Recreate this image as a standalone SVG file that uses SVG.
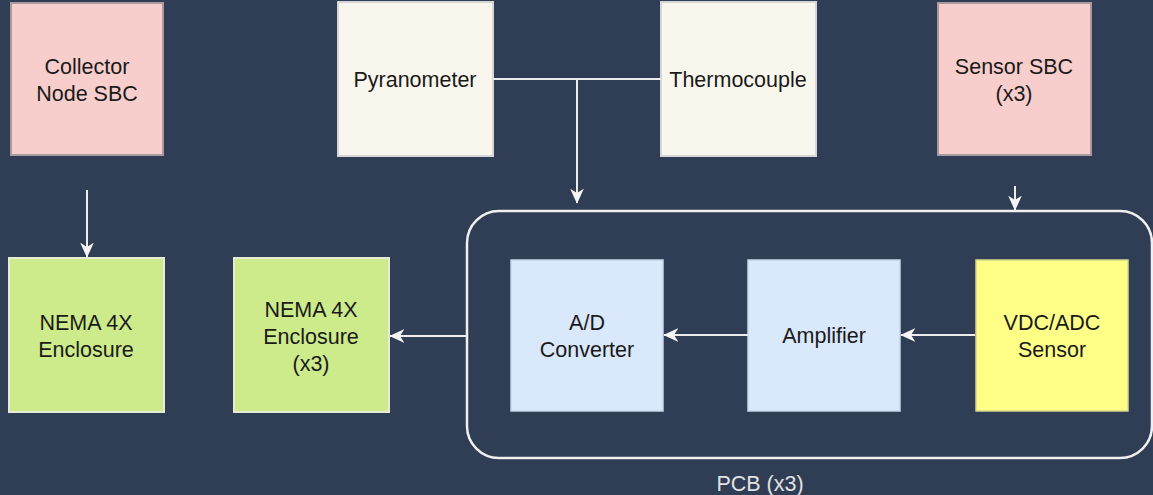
<svg xmlns="http://www.w3.org/2000/svg" width="1153" height="495" viewBox="0 0 1153 495">
<defs>
<marker id="arr" viewBox="0 0 12 12" refX="11.5" refY="6" markerWidth="15" markerHeight="15" markerUnits="userSpaceOnUse" orient="auto">
<path d="M0,0.5 L12,6 L0,11.5 L3.5,6 z" fill="#f4f4f4"/>
</marker>
</defs>
<style>
text{font-family:"Liberation Sans",Arial,sans-serif;font-size:21.5px;fill:#1a1a1a;text-anchor:middle}
.pink{fill:#f8cecc;stroke:#a89a9e;stroke-width:2}
.cream{fill:#f9f7ed;stroke:#d6d6d6;stroke-width:2}
.green{fill:#cdeb8b;stroke:#e4ecd8;stroke-width:2}
.blue{fill:#dae8fc;stroke:#c9d6e8;stroke-width:1.5}
.yellow{fill:#ffff88;stroke:#d8d88a;stroke-width:1.5}
.edge{fill:none;stroke:#ececec;stroke-width:2}
.lbl{fill:#e2e2e2}
</style>
<rect width="1153" height="495" fill="#2f3e55"/>

<g id="pcb">
<rect x="467" y="211" width="685" height="247" rx="32" ry="32" fill="none" stroke="#f0f0f0" stroke-width="2.5"/>
<text class="lbl" x="760" y="491">PCB (x3)</text>
</g>

<g id="collector">
<rect class="pink" x="11" y="3" width="152" height="152"/>
<text x="87" y="74">Collector</text>
<text x="87" y="101">Node SBC</text>
</g>
<g id="pyranometer">
<rect class="cream" x="338" y="2" width="155" height="154"/>
<text x="415" y="87">Pyranometer</text>
</g>
<g id="thermocouple">
<rect class="cream" x="661" y="2" width="155" height="154"/>
<text x="738" y="87">Thermocouple</text>
</g>
<g id="sensorsbc">
<rect class="pink" x="938" y="3" width="153" height="152"/>
<text x="1014" y="74">Sensor SBC</text>
<text x="1014" y="101">(x3)</text>
</g>
<g id="nema1">
<rect class="green" x="9" y="258" width="155" height="154"/>
<text x="86" y="330">NEMA 4X</text>
<text x="86" y="357">Enclosure</text>
</g>
<g id="nema3">
<rect class="green" x="234" y="258" width="155" height="154"/>
<text x="311" y="317">NEMA 4X</text>
<text x="311" y="344">Enclosure</text>
<text x="311" y="371">(x3)</text>
</g>
<g id="adc">
<rect class="blue" x="511" y="260" width="152" height="151"/>
<text x="587" y="330">A/D</text>
<text x="587" y="357">Converter</text>
</g>
<g id="amplifier">
<rect class="blue" x="748" y="260" width="152" height="151"/>
<text x="824" y="343">Amplifier</text>
</g>
<g id="vdc">
<rect class="yellow" x="976" y="260" width="152" height="151"/>
<text x="1052" y="330">VDC/ADC</text>
<text x="1052" y="357">Sensor</text>
</g>

<g id="connectors">
<path class="edge" d="M87,190 L87,257" marker-end="url(#arr)"/>
<path class="edge" d="M493,79 L661,79"/>
<path class="edge" d="M577,79 L577,203" marker-end="url(#arr)"/>
<path class="edge" d="M1015,186 L1015,210" marker-end="url(#arr)"/>
<path class="edge" d="M467,336 L390,336" marker-end="url(#arr)"/>
<path class="edge" d="M748,335 L664,335" marker-end="url(#arr)"/>
<path class="edge" d="M975,335 L901,335" marker-end="url(#arr)"/>
</g>
</svg>
